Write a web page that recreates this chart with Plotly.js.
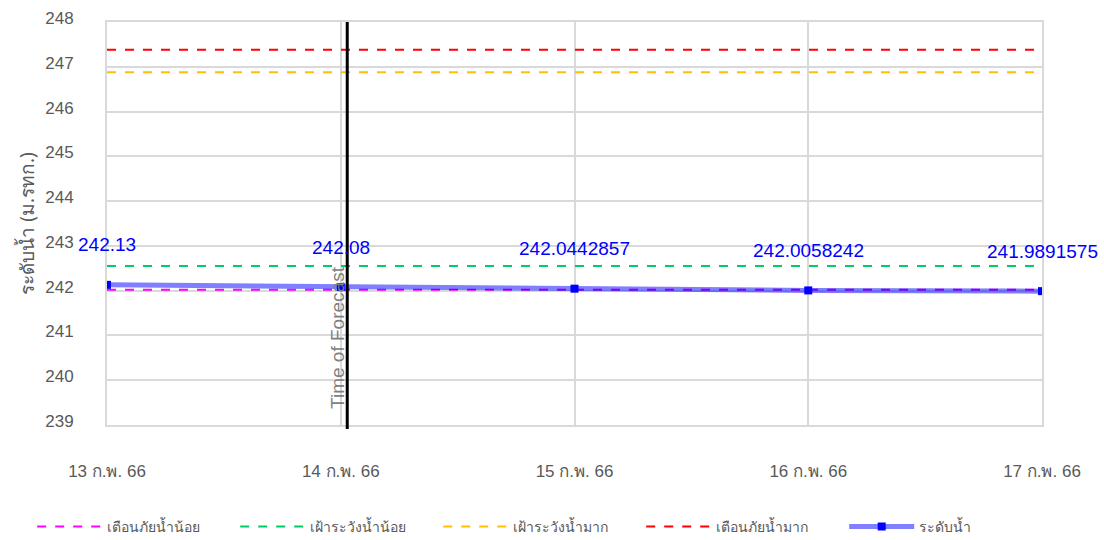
<!DOCTYPE html>
<html><head><meta charset="utf-8">
<script src="https://cdn.plot.ly/plotly-3.0.1.min.js"></script>
<style>html,body{margin:0;padding:0;background:#fff}#chart{width:1104px;height:540px}</style>
</head><body><div id="chart"></div>
<script>
// Data
const dates = ['2023-02-13','2023-02-14','2023-02-15','2023-02-16','2023-02-17'];
const tickLabels = ['13 ก.พ. 66','14 ก.พ. 66','15 ก.พ. 66','16 ก.พ. 66','17 ก.พ. 66'];
const waterLevel = [242.13, 242.08, 242.0442857, 242.0058242, 241.9891575];
const waterLabels = ['242.13','242.08','242.0442857','242.0058242','241.9891575'];
const lowWarning = 242.02;   // magenta
const lowWatch = 242.55;     // green
const highWatch = 246.88;    // orange
const highWarning = 247.38;  // red
const forecastTime = '2023-02-14 00:40';
const yTicks = [239,240,241,242,243,244,245,246,247,248];
const seriesNames = ['เตือนภัยน้ำน้อย','เฝ้าระวังน้ำน้อย','เฝ้าระวังน้ำมาก','เตือนภัยน้ำมาก','ระดับน้ำ'];

const xr = [dates[0], dates[dates.length-1]];
function hline(val, color, name){
  return {x: xr, y: [val, val], mode:'lines', name: name,
    line:{color: color, width:2, dash:'dash'}, hoverinfo:'skip'};
}
const traces = [
  hline(lowWarning, '#ff00ff', seriesNames[0]),
  hline(lowWatch, '#00cc66', seriesNames[1]),
  hline(highWatch, '#ffc000', seriesNames[2]),
  hline(highWarning, '#ff0000', seriesNames[3]),
  {x: dates, y: waterLevel, mode:'lines+markers', name: seriesNames[4],
   line:{color:'rgba(0,0,255,0.5)', width:5},
   marker:{color:'#0000ff', size:8, symbol:'square'}}
];

const annotations = dates.map((d,i)=>({
  x: d, y: waterLevel[i], text: waterLabels[i], showarrow:false,
  yshift: 40, font:{family:'Liberation Sans, Arial', size:19, color:'#0000ff'}
}));
annotations.push({x: forecastTime, y: 240.95, text:'Time of Forecast', textangle:-90,
  showarrow:false, xanchor:'center', yanchor:'middle', xshift:-10,
  font:{family:'Liberation Sans, Arial', size:19, color:'#808080'}});

const layout = {
  width:1104, height:540,
  margin:{l:107, r:62, t:22, b:115, autoexpand:false},
  paper_bgcolor:'#fff', plot_bgcolor:'#fff',
  showlegend:true,
  legend:{orientation:'h', x:-0.08, xanchor:'left', y:-0.253, yanchor:'middle',
    entrywidth:123, entrywidthmode:'pixels', itemwidth:65,
    font:{family:'Noto Sans, Liberation Sans', size:14, color:'#595959'}},
  xaxis:{type:'date', range:xr, tickvals:dates, ticktext:tickLabels,
    showgrid:true, gridcolor:'#d9d9d9', gridwidth:2, zeroline:false,
    showline:true, linecolor:'#d9d9d9', linewidth:2, mirror:true,
    ticklabelstandoff:30,
    tickfont:{family:'Liberation Sans, Noto Sans', size:17, color:'#595959'}},
  yaxis:{range:[239,248], tickvals:yTicks, showgrid:true, gridcolor:'#d9d9d9', gridwidth:2,
    zeroline:false, showline:true, linecolor:'#d9d9d9', linewidth:2, mirror:true,
    ticklabelstandoff:28, ticklabelshift:-4,
    tickfont:{family:'Liberation Sans, Arial', size:17, color:'#595959'},
    title:{text:'ระดับน้ำ (ม.รทก.)', standoff:6,
      font:{family:'Noto Sans, Liberation Sans', size:19, color:'#595959'}}},
  shapes:[{type:'line', xref:'x', yref:'paper', x0:forecastTime, x1:forecastTime, y0:-0.01, y1:1,
    line:{color:'#000', width:3}}],
  annotations: annotations
};
Plotly.newPlot('chart', traces, layout, {displayModeBar:false, staticPlot:true});
</script></body></html>
